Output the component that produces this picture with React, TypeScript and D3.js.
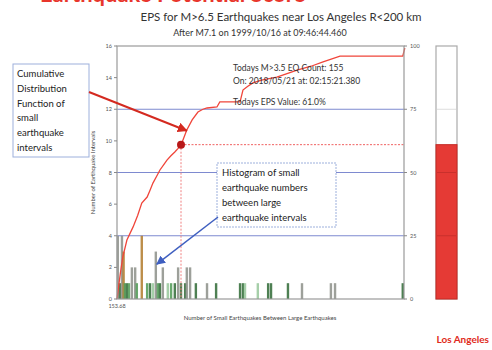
import React from "react";
import * as d3 from "d3";

// left axis: number of earthquake intervals (histogram), right axis: percent (CDF)
const leftTicks = [0, 2, 4, 6, 8, 10, 12, 14, 16];
const rightTicks = [0, 25, 50, 75, 100];
const gridCounts = [4, 8, 12];

// cumulative distribution (x = small quake count, y = percent)
const cdfX = [0, 8, 14, 24, 39, 50, 60, 73, 80, 87, 96, 104, 112, 121, 130, 140, 148, 157, 169, 182, 196, 208, 218, 242, 249, 298, 305, 316, 329, 350, 387, 410, 436, 470, 499, 540, 692, 697];
const cdfY = [0, 10, 16.6, 23.3, 28.5, 33, 37.9, 40.3, 43, 45.8, 48.5, 51, 52.8, 54.9, 56.5, 58.1, 59.5, 61.7, 66.8, 70.8, 73.9, 75, 75.5, 75.9, 77.9, 77.9, 82.6, 84, 85.4, 86.5, 87.7, 89, 90.5, 92, 93.7, 96, 96, 99.2];

// histogram bars
const barX = [2, 7, 12, 16, 19, 24, 29, 36, 44, 48, 60, 73, 80, 87, 94, 99, 104, 111, 123, 131, 140, 148, 155, 165, 169, 177, 191, 218, 240, 298, 305, 310, 341, 366, 373, 414, 448, 518, 528, 692];
const barH = [4, 1, 4, 3, 1, 1, 1, 2, 2, 1, 4, 1, 1, 1, 3, 1, 1, 2, 1, 1, 1, 2, 1, 1, 2, 2, 1, 1, 1, 1, 1, 1, 1, 1, 1, 1, 1, 1, 1, 1];
const barShade = ["g", "d", "g", "o", "m", "d", "m", "g", "g", "m", "o", "m", "d", "l", "g", "m", "d", "g", "l", "m", "d", "g", "d", "d", "g", "g", "d", "g", "d", "d", "d", "l", "l", "d", "d", "d", "g", "g", "g", "d"];

const currentCount = 155;
const epsValue = 61.0;

const shadeColor: Record<string, string> = {
  d: "#2f6a35",
  m: "#4f9a55",
  l: "#97c79a",
  g: "#8c8f88",
  o: "#b07a2a",
};

const W = 492;
const H = 350;
const plot = { left: 117, right: 404, top: 46, bottom: 299 };

export default function App() {
  const x = d3.scaleLinear().domain([0, 695]).range([plot.left, plot.right]);
  const yL = d3.scaleLinear().domain([0, 16]).range([plot.bottom, plot.top]);
  const yR = d3.scaleLinear().domain([0, 100]).range([plot.bottom, plot.top]);
  const therm = d3.scaleLinear().domain([0, 100]).range([plot.bottom, plot.top]);

  const line = d3
    .line<number>()
    .x((d, i) => x(cdfX[i]))
    .y((d) => yR(d));

  const dotX = x(currentCount);
  const dotY = yR(epsValue);
  const txt = "#333";
  const font = "Lato, 'Open Sans', sans-serif";

  return (
    <div style={{ position: "fixed", left: 0, top: 0 }}>
      <svg width={W} height={H} style={{ display: "block", background: "#fff" }} fontFamily={font}>
        <defs>
          <marker id="ahRed" viewBox="0 0 10 10" refX="9" refY="5" markerWidth="5" markerHeight="5" orient="auto">
            <path d="M0,0 L10,5 L0,10 z" fill="#d42a20" />
          </marker>
          <marker id="ahBlue" viewBox="0 0 10 10" refX="9" refY="5" markerWidth="6" markerHeight="6" orient="auto">
            <path d="M0,0 L10,5 L0,10 z" fill="#3f5fc0" />
          </marker>
        </defs>

        {/* slide heading, cut off at the top as in the original */}
        <text x={40} y={1.5} fontSize={22} fill="#e8362c" fontWeight="bold">Earthquake Potential Score</text>

        <text x={281} y={21} fontSize={11.5} textAnchor="middle" fill={txt}>EPS for M&gt;6.5 Earthquakes near Los Angeles R&lt;200 km</text>
        <text x={260} y={36} fontSize={9} textAnchor="middle" fill={txt}>After M7.1 on 1999/10/16 at 09:46:44.460</text>

        {/* grid lines */}
        {gridCounts.map((c) => (
          <line key={c} x1={plot.left} x2={plot.right} y1={yL(c)} y2={yL(c)} stroke="#7e8ad0" strokeWidth={1} />
        ))}

        {/* histogram */}
        {barX.map((bx, i) => (
          <rect
            key={i}
            x={x(bx) - 1.2}
            width={2.4}
            y={yL(barH[i])}
            height={yL(0) - yL(barH[i])}
            fill={shadeColor[barShade[i]]}
            fillOpacity={0.85}
          />
        ))}

        {/* CDF */}
        <path d={line(cdfY) || ""} fill="none" stroke="#f0453a" strokeWidth={1.3} />

        {/* current value markers */}
        <line x1={dotX} x2={plot.right} y1={dotY} y2={dotY} stroke="#f06060" strokeWidth={1} strokeDasharray="2,1.5" />
        <line x1={dotX} x2={dotX} y1={dotY} y2={plot.bottom} stroke="#f08080" strokeWidth={1} strokeDasharray="2,1.5" />
        <circle cx={dotX} cy={dotY} r={4} fill="#b81818" />

        {/* frame */}
        <rect x={plot.left} y={plot.top} width={plot.right - plot.left} height={plot.bottom - plot.top} fill="none" stroke="#9a9a9a" strokeWidth={1.2} />

        {/* left ticks */}
        {leftTicks.map((t) => (
          <g key={t}>
            <line x1={plot.left - 3} x2={plot.left} y1={yL(t)} y2={yL(t)} stroke="#888" />
            <text x={plot.left - 5} y={yL(t) + 2} fontSize={5.5} textAnchor="end" fill="#555">{t}</text>
          </g>
        ))}
        {/* right ticks */}
        {rightTicks.map((t) => (
          <g key={t}>
            <line x1={plot.right} x2={plot.right + 3} y1={yR(t)} y2={yR(t)} stroke="#888" />
            <text x={plot.right + 6} y={yR(t) + 2} fontSize={5.5} fill="#555">{t}</text>
          </g>
        ))}
        <text x={plot.left} y={plot.bottom + 9} fontSize={5.5} textAnchor="middle" fill="#555">153.68</text>

        <text x={260} y={320} fontSize={6} textAnchor="middle" fill="#444">Number of Small Earthquakes Between Large Earthquakes</text>
        <text transform={`translate(95,${(plot.top + plot.bottom) / 2}) rotate(-90)`} fontSize={6} textAnchor="middle" fill="#444">Number of Earthquake Intervals</text>

        {/* today's text */}
        <text x={233} y={71} fontSize={8.5} fill={txt}>Todays M&gt;3.5 EQ Count:  155</text>
        <text x={233} y={84} fontSize={8.5} fill={txt}>On:  2018/05/21   at:  02:15:21.380</text>
        <text x={233} y={105} fontSize={8.5} fill={txt}>Todays EPS Value:  61.0%</text>

        {/* annotation boxes */}
        <rect x={13} y={64} width={76} height={93} fill="#fff" stroke="#9db0dc" strokeWidth={1} />
        {["Cumulative", "Distribution", "Function of", "small", "earthquake", "intervals"].map((s, i) => (
          <text key={s} x={17} y={77 + i * 14.8} fontSize={9.5} fill="#222">{s}</text>
        ))}
        <line x1={89} y1={92} x2={x(169)} y2={yR(66.5)} stroke="#d42a20" strokeWidth={2} markerEnd="url(#ahRed)" />

        <rect x={217} y={163} width={119} height={64} fill="#fff" stroke="#9db0dc" strokeWidth={1} strokeDasharray="2,1" />
        {["Histogram of small", "earthquake numbers", "between large", "earthquake intervals"].map((s, i) => (
          <text key={s} x={222} y={176 + i * 15} fontSize={9.5} fill="#222">{s}</text>
        ))}
        <line x1={218} y1={217} x2={x(94) + 1} y2={yL(2.2)} stroke="#3f5fc0" strokeWidth={1.5} markerEnd="url(#ahBlue)" />

        {/* thermometer */}
        <rect x={436} y={therm(100)} width={21} height={therm(0) - therm(100)} fill="#fff" stroke="#aaa" strokeWidth={1.2} />
        <rect x={436} y={therm(epsValue)} width={21} height={therm(0) - therm(epsValue)} fill="#e53a35" stroke="#c42a25" strokeWidth={1} />
        <line x1={437} x2={456} y1={therm(75)} y2={therm(75)} stroke="#ddd" />
        {[25, 50].map((t) => (
          <line key={t} x1={437} x2={456} y1={therm(t)} y2={therm(t)} stroke="#c9302c" />
        ))}

        <text x={489} y={343} fontSize={10} fontWeight="bold" textAnchor="end" fill="#e02a20">Los Angeles</text>
      </svg>
    </div>
  );
}
